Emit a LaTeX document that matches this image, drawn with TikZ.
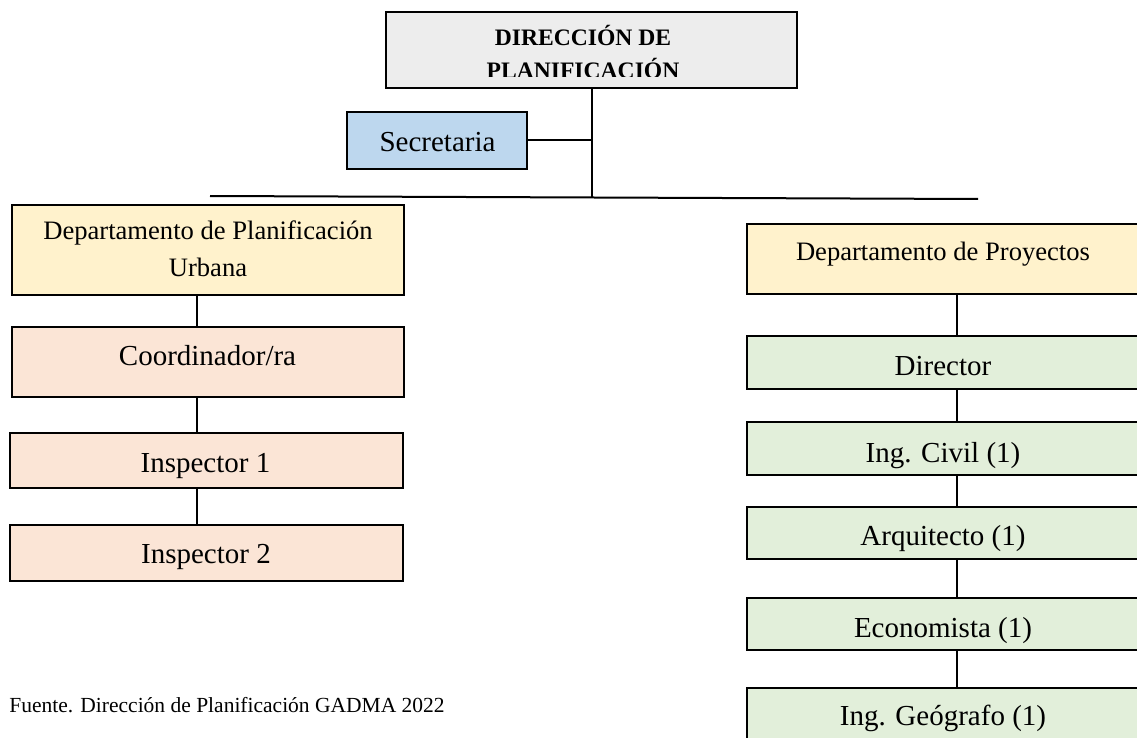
\documentclass[tikz,border=0pt]{standalone}
\usepackage{fontspec}
\setmainfont{Liberation Serif}
\definecolor{topgray}{HTML}{EDEDED}
\definecolor{secblue}{HTML}{BDD7EE}
\definecolor{depyellow}{HTML}{FFF2CC}
\definecolor{peach}{HTML}{FBE5D6}
\definecolor{lgreen}{HTML}{E2EFDA}
\tikzset{
  box/.style={draw=black, line width=1.2pt, rectangle, inner sep=0pt},
  conn/.style={draw=black, line width=1pt},
  txt/.style={inner sep=0pt, anchor=base, font=\fontsize{14.5}{17}\selectfont},
  deptxt/.style={inner sep=0pt, anchor=base, font=\fontsize{13.3}{16}\selectfont},
  toptxt/.style={inner sep=0pt, anchor=base, font=\fontsize{11.8}{14}\selectfont\bfseries},
}
\begin{document}
\begin{tikzpicture}[x=0.5pt, y=-0.5pt]
\useasboundingbox (0,0) rectangle (1137,738);
% boxes
\node[box, fill=topgray, minimum width=205.5pt, minimum height=38pt] (top) at (591.5,50) {};
\node[box, fill=secblue, minimum width=90pt, minimum height=28.5pt] (sec) at (437,140.5) {};
\node[box, fill=depyellow, minimum width=196pt, minimum height=45pt] (dL) at (208,250) {};
\node[box, fill=peach, minimum width=196pt, minimum height=35pt] (coord) at (208,362) {};
\node[box, fill=peach, minimum width=196.5pt, minimum height=27.5pt] (ins1) at (206.5,460.5) {};
\node[box, fill=peach, minimum width=196.5pt, minimum height=28pt] (ins2) at (206.5,553) {};
\node[box, fill=depyellow, minimum width=197pt, minimum height=35pt] (dR) at (944,259) {};
\node[box, fill=lgreen, minimum width=197pt, minimum height=26.5pt] (dir) at (944,362.5) {};
\node[box, fill=lgreen, minimum width=197pt, minimum height=26.5pt] (civ) at (944,448.5) {};
\node[box, fill=lgreen, minimum width=197pt, minimum height=26pt] (arq) at (944,533) {};
\node[box, fill=lgreen, minimum width=197pt, minimum height=26pt] (eco) at (944,624) {};
\node[box, fill=lgreen, minimum width=197pt, minimum height=26.5pt] (geo) at (944,714.5) {};
% texts
\begin{scope}
\clip (386,12) rectangle (797,77);
\node[toptxt] (topt1) at (583,46) {DIRECCIÓN DE};
\node[toptxt] (topt2) at (583,79) {PLANIFICACIÓN};
\end{scope}
\node[txt] (sect) at (437.5,152) {Secretaria};
\node[deptxt] (dLt1) at (208,240) {Departamento de Planificación};
\node[deptxt] (dLt2) at (208,277) {Urbana};
\node[txt] (coordt) at (207.5,365) {Coordinador/ra};
\node[txt] (ins1t) at (205.5,472) {Inspector 1};
\node[txt] (ins2t) at (206,563) {Inspector 2};
\node[deptxt] (dRt) at (943,261) {Departamento de Proyectos};
\node[txt] (dirt) at (943,375) {Director};
\node[txt] (civt) at (943,462) {Ing. Civil (1)};
\node[txt] (arqt) at (943,545) {Arquitecto (1)};
\node[txt] (ecot) at (943,637) {Economista (1)};
\node[txt] (geot) at (943,725) {Ing. Geógrafo (1)};
\node[inner sep=0pt, anchor=base west, font=\fontsize{10.75}{13}\selectfont] (fuente) at (9,712) {Fuente. Dirección de Planificación GADMA 2022};
% connectors
\coordinate (mcol) at (592,0);
\coordinate (lcol) at (197,0);
\coordinate (rcol) at (957,0);
\coordinate (busL) at (210,196);
\coordinate (busR) at (978,199);
\coordinate (busJ) at (592,197.5);
\draw[conn] (top.south -| mcol) -- (busJ);
\draw[conn] (sec.east) -- (sec.east -| mcol);
\draw[conn] (busL) -- (busR);
\draw[conn] (dL.south -| lcol) -- (coord.north -| lcol);
\draw[conn] (coord.south -| lcol) -- (ins1.north -| lcol);
\draw[conn] (ins1.south -| lcol) -- (ins2.north -| lcol);
\draw[conn] (dR.south -| rcol) -- (dir.north -| rcol);
\draw[conn] (dir.south -| rcol) -- (civ.north -| rcol);
\draw[conn] (civ.south -| rcol) -- (arq.north -| rcol);
\draw[conn] (arq.south -| rcol) -- (eco.north -| rcol);
\draw[conn] (eco.south -| rcol) -- (geo.north -| rcol);
\end{tikzpicture}
\end{document}
